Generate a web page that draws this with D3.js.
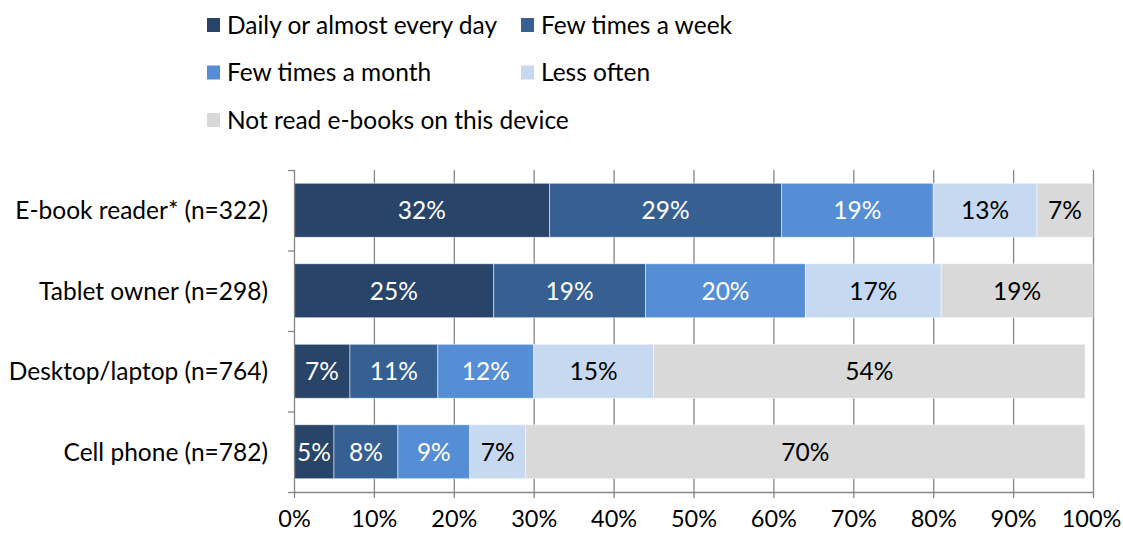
<!DOCTYPE html>
<html>
<head>
<meta charset="utf-8">
<script src="https://cdn.jsdelivr.net/npm/d3@7"></script>
<style>
  body { margin: 0; background: #fff; }
  svg text { font-family: Lato, "Open Sans", sans-serif; }
</style>
</head>
<body>
<svg id="chart" width="1123" height="535"></svg>
<script>
const categories = ["E-book reader* (n=322)", "Tablet owner (n=298)", "Desktop/laptop (n=764)", "Cell phone (n=782)"];
const seriesNames = ["Daily or almost every day", "Few times a week", "Few times a month", "Less often", "Not read e-books on this device"];
const daily   = [32, 25, 7, 5];
const weekly  = [29, 19, 11, 8];
const monthly = [19, 20, 12, 9];
const less    = [13, 17, 15, 7];
const notRead = [7, 19, 54, 70];
const xTicks = [0, 10, 20, 30, 40, 50, 60, 70, 80, 90, 100];
const colors = ["#284468", "#376092", "#558ED5", "#C6D9F1", "#D9D9D9"];
const labelColors = ["#fff", "#fff", "#fff", "#000", "#000"];

const seriesValues = [daily, weekly, monthly, less, notRead];
const rows = categories.map((c, i) => {
  const r = { cat: c };
  seriesNames.forEach((s, j) => r[s] = seriesValues[j][i]);
  return r;
});
const stacked = d3.stack().keys(seriesNames)(rows);

const svg = d3.select("#chart");
const margin = { left: 294, top: 170 };
const x = d3.scaleLinear().domain([0, 100]).range([margin.left, 1093]);
const y = d3.scaleBand().domain(categories).range([margin.top, 492]).paddingInner(0.33).paddingOuter(0.165);
const FS = 24.5;

// gridlines
svg.append("g").selectAll("line").data(xTicks.slice(1)).join("line")
  .attr("x1", d => x(d) + 0.5).attr("x2", d => x(d) + 0.5)
  .attr("y1", margin.top).attr("y2", 492)
  .attr("stroke", "#868686").attr("stroke-width", 1.3);

// bars
const g = svg.append("g");
stacked.forEach((layer, j) => {
  g.append("g").selectAll("rect").data(layer).join("rect")
    .attr("x", d => x(d[0]))
    .attr("width", d => x(d[1]) - x(d[0]))
    .attr("y", d => y(d.data.cat))
    .attr("height", y.bandwidth())
    .attr("fill", colors[j])
    .attr("stroke", "rgba(255,255,255,0.6)")
    .attr("stroke-width", 0.8);
  g.append("g").selectAll("text").data(layer).join("text")
    .attr("x", d => (x(d[0]) + x(d[1])) / 2)
    .attr("y", d => y(d.data.cat) + y.bandwidth() / 2)
    .attr("dy", "0.36em")
    .attr("text-anchor", "middle")
    .attr("font-size", FS)
    .attr("fill", labelColors[j])
    .text(d => (d[1] - d[0]) + "%");
});

// x axis
const xAxis = d3.axisBottom(x).tickValues(xTicks).tickFormat(d => d + "%").tickSize(6).tickPadding(12);
const xg = svg.append("g").attr("transform", `translate(0,492)`).call(xAxis);
xg.select(".domain").attr("stroke", "#868686").attr("stroke-width", 1.3).attr("d", `M${x(0)},0.5H${x(100)}`);
xg.selectAll(".tick line").attr("stroke", "#868686").attr("stroke-width", 1.3).attr("y1", 0);
xg.selectAll("text").attr("font-size", 23.5).attr("fill", "#000").attr("font-family", "Lato, sans-serif");
xg.selectAll(".tick").filter(d => d === 100).select("text").attr("dx", -2);

// y axis
const yg = svg.append("g").attr("transform", `translate(${x(0)},0)`);
yg.append("line").attr("x1", 0.5).attr("x2", 0.5).attr("y1", margin.top).attr("y2", 492)
  .attr("stroke", "#868686").attr("stroke-width", 1.3);
const bounds = [margin.top].concat(categories.map(c => y(c) + y.bandwidth() + y.step() * y.paddingInner() / 2));
bounds[bounds.length - 1] = 492;
yg.selectAll("line.tk").data(bounds).join("line").attr("class", "tk")
  .attr("x1", -6).attr("x2", 0).attr("y1", d => d + 0.5).attr("y2", d => d + 0.5)
  .attr("stroke", "#868686").attr("stroke-width", 1.3);
yg.selectAll("text").data(categories).join("text")
  .attr("x", -26).attr("y", d => y(d) + y.bandwidth() / 2).attr("dy", "0.36em")
  .attr("text-anchor", "end").attr("font-size", FS).attr("fill", "#000")
  .text(d => d);

// legend
const legendPos = [[207, 25], [521, 25], [207, 72.5], [521, 72.5], [207, 120]];
const lg = svg.append("g");
seriesNames.forEach((s, j) => {
  const [lx, ly] = legendPos[j];
  lg.append("rect").attr("x", lx).attr("y", ly - 7).attr("width", 13).attr("height", 14).attr("fill", colors[j]);
  lg.append("text").attr("x", lx + 20).attr("y", ly).attr("dy", "0.36em")
    .attr("font-size", FS).attr("fill", "#000").text(s);
});
</script>
</body>
</html>
